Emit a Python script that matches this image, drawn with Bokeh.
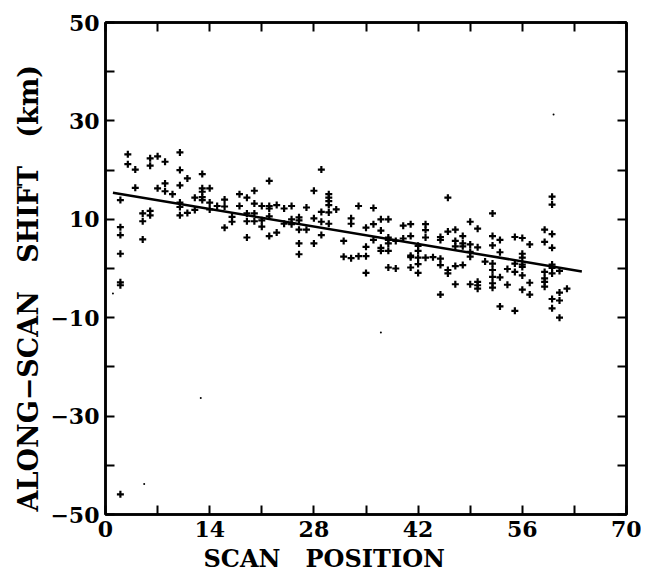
from bokeh.plotting import figure
from bokeh.models import FixedTicker, LinearAxis, Range1d, Title
from bokeh.embed import file_html
from bokeh.resources import INLINE

# ---------------- data ----------------
scan_pos = (
    [2]*7 + [3]*2 + [4]*2 + [5]*3 + [6]*4 + [7]*2 + [8]*3 + [9] + [10]*6 + [11]*2 +
    [12]*2 + [13]*5 + [14]*3 + [15] + [16]*3 + [17]*2 + [18]*2 + [19]*4 + [20]*4 +
    [21]*3 + [22]*5 + [23]*2 + [24]*2 + [25]*3 + [26]*5 + [27]*2 + [28]*3 + [29]*4 +
    [30]*6 + [31] + [32]*2 + [33]*3 + [34]*2 + [35]*4 + [36]*3 + [37]*4 + [38]*6 +
    [39]*2 + [40]*2 + [41]*5 + [42]*5 + [43]*4 + [44] + [45]*5 + [46]*4 + [47]*5 +
    [48]*4 + [49]*5 + [50]*5 + [51] + [52]*8 + [53]*4 + [54]*2 + [55]*4 + [56]*7 +
    [57]*3 + [59]*6 + [60]*9 + [61]*4 + [62]
)
shift_km = [
    13.9, 8.4, 6.8, 3.0, -2.8, -3.4, -45.9,
    23.2, 21.2,
    20.1, 16.4,
    11.2, 9.6, 5.9,
    22.4, 20.9, 11.7, 10.8,
    22.8, 16.3,
    21.7, 17.3, 15.7,
    15.1,
    23.6, 20.0, 16.9, 13.4, 12.5, 10.8,
    18.3, 11.3,
    14.4, 11.9,
    19.2, 16.3, 15.6, 14.5, 13.9,
    16.3, 13.4, 12.0,
    12.7,
    14.0, 12.6, 8.3,
    10.5, 9.5,
    15.1, 12.7,
    14.4, 11.2, 9.6, 6.3,
    15.8, 13.2, 11.2, 9.6,
    12.7, 9.8, 8.5,
    17.8, 12.7, 12.2, 10.6, 6.6,
    12.9, 7.3,
    12.2, 9.1,
    12.7, 10.0, 9.0,
    10.4, 9.8, 7.9, 5.1, 2.9,
    12.4, 7.9,
    15.8, 10.2, 5.1,
    20.1, 11.5, 9.5, 6.8,
    15.1, 14.4, 13.7, 12.9, 11.4, 9.1,
    12.0,
    5.6, 2.4,
    10.2, 9.1, 2.1,
    12.7, 2.5,
    8.3, 4.4, 2.5, -0.9,
    12.3, 9.0, 5.8,
    10.0, 7.7, 4.2, 3.6,
    10.0, 6.3, 5.8, 5.1, 3.6, 0.2,
    5.6, 0.0,
    8.7, 6.1,
    9.0, 6.6, 2.6, 2.3, 0.2,
    4.6, 3.6, 2.2, 0.9, -0.9,
    9.0, 7.8, 6.3, 2.2,
    2.3,
    6.4, 5.8, 2.0, 0.7, -5.3,
    14.4, 7.5, -0.3, -1.0,
    7.9, 5.6, 4.5, 0.5, -3.2,
    6.6, 5.1, 4.5, 0.7,
    9.5, 4.9, 3.4, 2.4, -3.2,
    8.1, 4.3, -2.7, -3.4, -4.1,
    1.4,
    11.2, 6.6, 4.7, 1.0, -0.3, -1.7, -3.0, -3.9,
    5.8, 3.3, -1.8, -7.7,
    -0.1, -3.3,
    6.4, 1.0, -0.7, -8.6,
    6.2, 3.0, 2.2, 0.8, 0.3, -1.4, -4.3,
    4.9, -2.9, -5.3,
    7.9, 5.4, -0.7, -2.0, -2.7, -3.7,
    14.6, 13.0, 7.0, 4.2, 0.8, 0.1, -1.0, -6.2, -8.1,
    -0.5, -4.9, -6.5, -10.0,
    -4.1,
]

# faint isolated dots
speck_x = [1.0, 5.2, 12.8, 37.0, 60.2]
speck_y = [-5.1, -43.8, -26.3, -13.0, 31.3]

# fitted line end points
fit_x = [1.0, 64.0]
fit_y = [15.4, -0.6]

x_major = [0, 14, 28, 42, 56, 70]
x_minor = [7, 21, 35, 49, 63]
y_major = [-50, -30, -10, 10, 30, 50]
y_minor = [-40, -20, 0, 20, 40]
y_labels = {-50: "\u221250", -30: "\u221230", -10: "\u221210"}

GAP = "\u00a0\u00a0\u00a0"
x_title = "SCAN" + GAP + "POSITION"
y_title = "ALONG\u2212SCAN" + GAP + "SHIFT" + GAP + "(km)"

# ---------------- figure ----------------
p = figure(width=641, height=574, output_backend="svg", toolbar_location=None,
           x_range=Range1d(0, 70), y_range=Range1d(-50, 50),
           x_axis_location=None, y_axis_location=None,
           min_border_left=105, min_border_top=22, min_border_right=15, min_border_bottom=10)
p.grid.visible = False
p.outline_line_color = "black"
p.outline_line_width = 2.5
p.background_fill_color = "white"
p.border_fill_color = "white"

FONT = "DejaVu Serif"


def make_axis(major, minor):
    ax = LinearAxis(ticker=FixedTicker(ticks=major, minor_ticks=minor))
    ax.axis_line_width = 2.5
    ax.axis_line_color = "black"
    ax.major_tick_in = 9
    ax.major_tick_out = 0
    ax.major_tick_line_width = 2
    ax.minor_tick_in = 9
    ax.minor_tick_out = 0
    ax.minor_tick_line_width = 2
    ax.minor_tick_line_color = "black"
    ax.major_label_text_font = FONT
    ax.major_label_text_font_style = "bold"
    ax.major_label_text_font_size = "22px"
    ax.major_label_text_color = "black"
    ax.major_label_standoff = 6
    return ax


xa = make_axis(x_major, x_minor)
p.add_layout(xa, "below")
ya = make_axis(y_major, y_minor)
ya.major_label_overrides = y_labels
p.add_layout(ya, "left")

# frame ticks on top and right (no labels: minor ticks only)
top = make_axis([], x_major + x_minor)
p.add_layout(top, "above")
right = make_axis([], y_major + y_minor)
p.add_layout(right, "right")

xt = Title(text=x_title, align="left", offset=98, standoff=4,
           text_font=FONT, text_font_style="bold", text_font_size="24px",
           text_color="black")
p.add_layout(xt, "below")
yt = Title(text=y_title, align="left", offset=3, standoff=8,
           text_font=FONT, text_font_style="bold", text_font_size="27px",
           text_color="black")
p.add_layout(yt, "left")

p.scatter(scan_pos, shift_km, marker="cross", size=7, line_width=2.2, color="black")
p.scatter(speck_x, speck_y, marker="circle", size=2, color="black", line_color=None)
p.line(fit_x, fit_y, line_width=2.5, color="black")

open("out.html", "w").write(file_html(p, INLINE))
